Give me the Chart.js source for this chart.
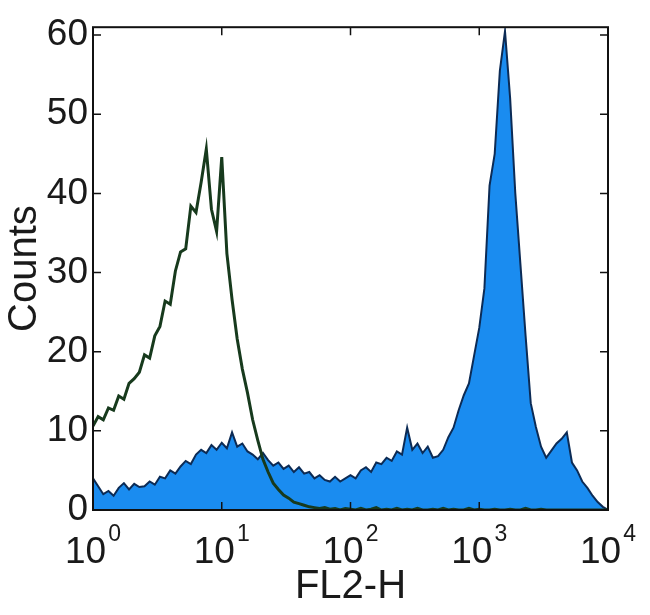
<!DOCTYPE html>
<html>
<head>
<meta charset="utf-8">
<script src="https://cdn.jsdelivr.net/npm/chart.js@4.4.0/dist/chart.umd.min.js"></script>
<style>
  html, body { margin: 0; padding: 0; background: #fff; }
  #wrap { width: 650px; height: 615px; }
</style>
</head>
<body>
<div id="wrap"><canvas id="histChart"></canvas></div>
<script>
// FL2-H channel position, in decades (10^0 .. 10^4)
const fl2Decades = [
  0.00, 0.04, 0.08, 0.12, 0.16, 0.20, 0.24, 0.28, 0.32, 0.36,
  0.40, 0.44, 0.48, 0.52, 0.56, 0.60, 0.64, 0.68, 0.72, 0.76,
  0.80, 0.84, 0.88, 0.92, 0.96, 1.00, 1.04, 1.08, 1.12, 1.16,
  1.20, 1.24, 1.28, 1.32, 1.36, 1.40, 1.44, 1.48, 1.52, 1.56,
  1.60, 1.64, 1.68, 1.72, 1.76, 1.80, 1.84, 1.88, 1.92, 1.96,
  2.00, 2.04, 2.08, 2.12, 2.16, 2.20, 2.24, 2.28, 2.32, 2.36,
  2.40, 2.44, 2.48, 2.52, 2.56, 2.60, 2.64, 2.68, 2.72, 2.76,
  2.80, 2.84, 2.88, 2.92, 2.96, 3.00, 3.04, 3.08, 3.12, 3.16,
  3.20, 3.24, 3.28, 3.32, 3.36, 3.40, 3.44, 3.48, 3.52, 3.56,
  3.60, 3.64, 3.68, 3.72, 3.76, 3.80, 3.84, 3.88, 3.92, 3.96,
  4.00
];

// isotype control (green outline)
const isotypeCounts = [
  10.6, 11.8, 11.4, 12.9, 12.6, 14.4, 14.0, 16.0, 16.6, 17.4,
  19.6, 19.2, 22.0, 23.2, 26.4, 26.0, 30.2, 32.6, 33.0, 38.4,
  37.6, 41.4, 45.6, 38.0, 35.2, 44.6, 32.4, 26.6, 21.6, 17.8,
  14.8, 11.4, 8.8, 6.4, 4.8, 3.4, 2.6, 1.9, 1.5, 1.0,
  0.8, 0.6, 0.4, 0.3, 0.2, 0.3, 0.1, 0.2, 0.0, 0.2,
  0.1, 0.0, 0.2, 0.0, 0.1, 0.3, 0.0, 0.1, 0.0, 0.2,
  0.0, 0.1, 0.0, 0.2, 0.0, 0.0, 0.1, 0.0, 0.2, 0.0,
  0.1, 0.0, 0.0, 0.2, 0.0, 0.1, 0.0, 0.0, 0.1, 0.0,
  0.0, 0.1, 0.0, 0.0, 0.2, 0.0, 0.0, 0.1, 0.0, 0.0,
  0.0, 0.0, 0.0, 0.0, 0.0, 0.0, 0.0, 0.0, 0.0, 0.0,
  0.0
];

// stained sample (blue filled)
const stainedCounts = [
  4.0, 3.0, 2.0, 2.4, 1.8, 2.8, 3.4, 2.6, 3.3, 2.9,
  3.0, 3.6, 3.2, 4.2, 4.0, 5.0, 4.6, 5.5, 6.2, 5.8,
  7.0, 7.6, 7.2, 8.2, 7.6, 8.5, 7.8, 9.8, 8.0, 8.4,
  7.4, 7.0, 6.4, 7.2, 6.3, 5.6, 6.0, 5.2, 5.6, 4.8,
  5.4, 4.6, 4.8, 4.0, 4.4, 3.8, 3.6, 4.2, 3.6, 4.0,
  4.4, 4.0, 5.0, 5.4, 4.8, 6.0, 5.8, 6.6, 6.2, 7.4,
  7.0, 10.4, 7.6, 8.4, 7.2, 8.0, 6.6, 6.8, 7.6, 9.2,
  10.4, 12.6, 14.5, 16.0, 19.5, 23.0, 28.0, 41.0, 45.0, 55.5,
  60.5, 52.0, 40.0, 31.0, 22.0, 13.5, 10.5, 8.0, 6.6, 7.5,
  8.4, 9.0, 9.8, 6.0, 5.0, 3.6, 2.8, 1.8, 1.0, 0.4,
  0.0
];

const xTickValues = [1, 10, 100, 1000, 10000];
const xTickExponents = ['0', '1', '2', '3', '4'];
const yTickValues = [0, 10, 20, 30, 40, 50, 60];

const textColor = '#1a1a1a';
const fontFamily = '"Liberation Sans", Arial, Helvetica, sans-serif';

const toPoints = counts => fl2Decades.map((d, i) => ({ x: Math.pow(10, d), y: counts[i] }));

// box frame, inward ticks and 10^n labels
const framePlugin = {
  id: 'frame',
  afterDatasetsDraw(chart) {
    const { ctx, chartArea: a, scales: { x, y } } = chart;
    ctx.save();
    ctx.strokeStyle = '#111';
    ctx.lineWidth = 2;
    ctx.strokeRect(a.left, a.top, a.right - a.left, a.bottom - a.top);

    ctx.lineWidth = 1.5;
    ctx.beginPath();
    yTickValues.forEach(v => {
      const py = y.getPixelForValue(v);
      ctx.moveTo(a.left, py); ctx.lineTo(a.left + 8, py);
      ctx.moveTo(a.right, py); ctx.lineTo(a.right - 8, py);
    });
    xTickValues.forEach(v => {
      const px = x.getPixelForValue(v);
      ctx.moveTo(px, a.bottom); ctx.lineTo(px, a.bottom - 8);
      ctx.moveTo(px, a.top); ctx.lineTo(px, a.top + 8);
    });
    ctx.stroke();

    ctx.fillStyle = textColor;
    ctx.textBaseline = 'alphabetic';
    ctx.textAlign = 'left';
    xTickValues.forEach((v, i) => {
      const px = x.getPixelForValue(v);
      ctx.font = '37px ' + fontFamily;
      const wb = ctx.measureText('10').width;
      ctx.font = '23px ' + fontFamily;
      const we = ctx.measureText(xTickExponents[i]).width;
      const start = px - (wb + we + 2) / 2;
      ctx.font = '37px ' + fontFamily;
      ctx.fillText('10', start, a.bottom + 53);
      ctx.font = '23px ' + fontFamily;
      ctx.fillText(xTickExponents[i], start + wb + 2, a.bottom + 31);
    });
    ctx.restore();
  }
};

const ctx = document.getElementById('histChart').getContext('2d');

const histChart = new Chart(ctx, {
  type: 'line',
  data: {
    datasets: [
      {
        label: 'Isotype',
        data: toPoints(isotypeCounts),
        borderColor: '#173a1d',
        borderWidth: 3,
        pointRadius: 0,
        tension: 0,
        fill: false,
        order: 0
      },
      {
        label: 'Stained',
        data: toPoints(stainedCounts),
        borderColor: '#0c2b55',
        borderWidth: 2,
        backgroundColor: '#1a8cf0',
        pointRadius: 0,
        tension: 0,
        fill: 'origin',
        order: 1
      }
    ]
  },
  options: {
    responsive: true,
    maintainAspectRatio: false,
    animation: false,
    layout: { padding: { top: 18, right: 42, left: 0, bottom: 0 } },
    plugins: {
      legend: { display: false },
      tooltip: { enabled: false }
    },
    scales: {
      x: {
        type: 'logarithmic',
        min: 1,
        max: 10000,
        afterBuildTicks: s => { s.ticks = xTickValues.map(v => ({ value: v })); },
        afterFit: s => { s.height = 105; },
        grid: { display: false, drawTicks: false },
        border: { display: false },
        ticks: { display: false },
        title: {
          display: true,
          text: 'FL2-H',
          color: textColor,
          font: { family: fontFamily, size: 40 },
          padding: { top: 0, bottom: 4 }
        }
      },
      y: {
        min: 0,
        max: 61,
        afterBuildTicks: s => { s.ticks = yTickValues.map(v => ({ value: v })); },
        afterFit: s => { s.width = 93; },
        grid: { display: false, drawTicks: false },
        border: { display: false },
        ticks: {
          color: textColor,
          padding: 5,
          font: { family: fontFamily, size: 37 }
        },
        title: {
          display: true,
          text: 'Counts',
          color: textColor,
          font: { family: fontFamily, size: 40 },
          padding: { top: 1, bottom: 0 }
        }
      }
    }
  },
  plugins: [framePlugin]
});
</script>
</body>
</html>
